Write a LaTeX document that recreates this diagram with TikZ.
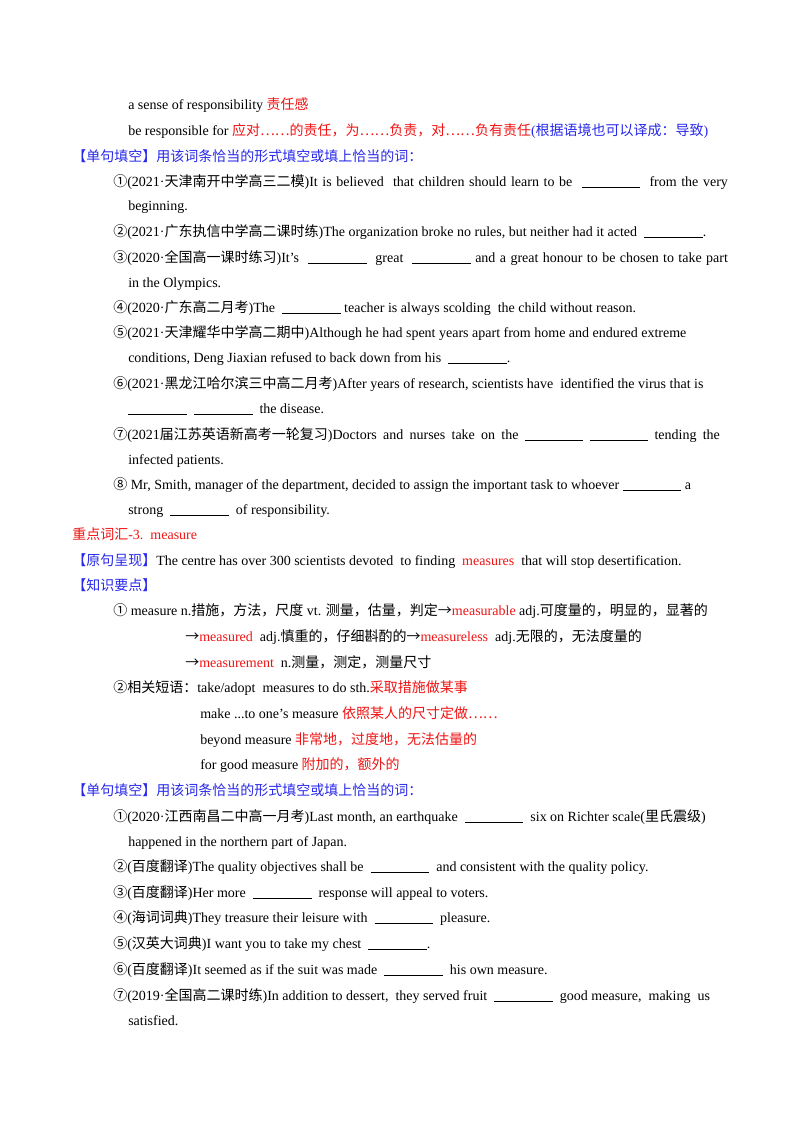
\documentclass[tikz,border=0pt]{standalone}
\usepackage{fontspec}
\setmainfont{Liberation Serif}
\newfontfamily\cjk{Noto Sans CJK SC}
\newcommand{\z}[1]{{\cjk #1}}
\definecolor{rd}{RGB}{240,20,20}
\definecolor{bl}{RGB}{40,40,235}
\newcommand{\R}[1]{\textcolor{rd}{#1}}
\newcommand{\B}[1]{\textcolor{bl}{#1}}
\newcommand{\bk}{\rule[-1.5pt]{44pt}{0.5pt}}
\newcommand{\ar}{\z{→}}
\begin{document}
\begin{tikzpicture}[x=0.75pt,y=-0.75pt,t/.style={anchor=base west,inner sep=0pt,font=\fontsize{10.5pt}{13pt}\selectfont}]
\useasboundingbox (0,0) rectangle (800,1132);
\fill[white] (0,0) rectangle (800,1132);
\node[t] (l1) at (128,109) {a sense of responsibility \R{\z{责任感}}};
\node[t] (l2) at (128,135) {be responsible for \R{\z{应对……的责任，为……负责，对……负有责任}}\B{(\z{根据语境也可以译成：导致})}};
\node[t] (l3) at (72,161) {\B{\z{【单句填空】用该词条恰当的形式填空或填上恰当的词：}}};
\node[t] (l4) at (113,186) {\hbox to 461pt{\z{①}(2021·\z{天津南开中学高三二模})It is believed\ \ that children should learn to be \ \bk\ \ from the very}};
\node[t] (l5) at (128,210) {beginning.};
\node[t] (l6) at (113,236) {\z{②}(2021·\z{广东执信中学高二课时练})The organization broke no rules, but neither had it acted \ \bk.};
\node[t] (l7) at (113,262) {\hbox to 461pt{\z{③}(2020·\z{全国高一课时练习})It's \ \bk\ \ great \ \bk\ and a great honour to be chosen to take part}};
\node[t] (l8) at (128,287) {in the Olympics.};
\node[t] (l9) at (113,312) {\z{④}(2020·\z{广东高二月考})The \ \bk\ teacher is always scolding\ \ the child without reason.};
\node[t] (l10) at (113,337) {\z{⑤}(2021·\z{天津耀华中学高二期中})Although he had spent years apart from home and endured extreme};
\node[t] (l11) at (128,362) {conditions, Deng Jiaxian refused to back down from his \ \bk.};
\node[t] (l12) at (113,388) {\z{⑥}(2021·\z{黑龙江哈尔滨三中高二月考})After years of research, scientists have\ \ identified the virus that is};
\node[t] (l13) at (128,413) {\bk\ \ \bk\ \ the disease.};
\node[t] (l14) at (113,439) {\hbox to 455pt{\z{⑦}(2021\z{届江苏英语新高考一轮复习})Doctors and nurses take on the \bk\ \bk\ tending the}};
\node[t] (l15) at (128,464) {infected patients.};
\node[t] (l16) at (113,489) {\z{⑧} Mr, Smith, manager of the department, decided to assign the important task to whoever \bk\ a};
\node[t] (l17) at (128,514) {strong \ \bk\ \ of responsibility.};
\node[t] (l18) at (72,539) {\R{\z{重点词汇}-3.\ \ measure}};
\node[t] (l19) at (72,565) {\B{\z{【原句呈现】}}The centre has over 300 scientists devoted\ \ to finding \ \R{measures}\ \ that will stop desertification.};
\node[t] (l20) at (72,590) {\B{\z{【知识要点】}}};
\node[t] (l21) at (113,615) {\z{①} measure n.\z{措施，方法，尺度} vt. \z{测量，估量，判定}\ar\R{measurable} adj.\z{可度量的，明显的，显著的}};
\node[t] (l22) at (185,641) {\ar\R{measured} \ adj.\z{慎重的，仔细斟酌的}\ar\R{measureless} \ adj.\z{无限的，无法度量的}};
\node[t] (l23) at (185,667) {\ar\R{measurement} \ n.\z{测量，测定，测量尺寸}};
\node[t] (l24) at (113,692) {\z{②相关短语：}take/adopt\ \ measures to do sth.\R{\z{采取措施做某事}}};
\node[t] (l25) at (200,718) {make ...to one's measure \R{\z{依照某人的尺寸定做……}}};
\node[t] (l26) at (200,744) {beyond measure \R{\z{非常地，过度地，无法估量的}}};
\node[t] (l27) at (200,769) {for good measure \R{\z{附加的，额外的}}};
\node[t] (l28) at (72,795) {\B{\z{【单句填空】用该词条恰当的形式填空或填上恰当的词：}}};
\node[t] (l29) at (113,821) {\z{①}(2020·\z{江西南昌二中高一月考})Last month, an earthquake \ \bk\ \ six on Richter scale(\z{里氏震级})};
\node[t] (l30) at (128,846) {happened in the northern part of Japan.};
\node[t] (l31) at (113,871) {\z{②}(\z{百度翻译})The quality objectives shall be \ \bk\ \ and consistent with the quality policy.};
\node[t] (l32) at (113,897) {\z{③}(\z{百度翻译})Her more \ \bk\ \ response will appeal to voters.};
\node[t] (l33) at (113,922) {\z{④}(\z{海词词典})They treasure their leisure with \ \bk\ \ pleasure.};
\node[t] (l34) at (113,948) {\z{⑤}(\z{汉英大词典})I want you to take my chest \ \bk.};
\node[t] (l35) at (113,974) {\z{⑥}(\z{百度翻译})It seemed as if the suit was made \ \bk\ \ his own measure.};
\node[t] (l36) at (113,1000) {\z{⑦}(2019·\z{全国高二课时练})In addition to dessert,\ \ they served fruit \ \bk\ \ good measure,\ \ making\ \ us};
\node[t] (l37) at (128,1025) {satisfied.};
\end{tikzpicture}
\end{document}
